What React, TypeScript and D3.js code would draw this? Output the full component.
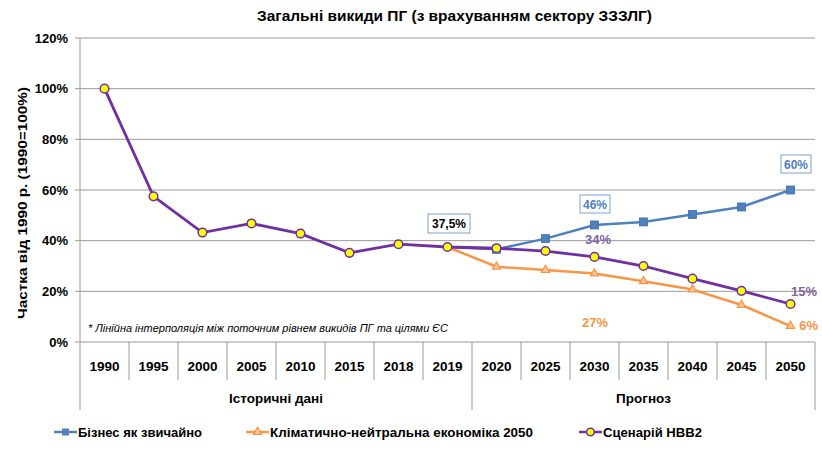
import React from "react";
import * as d3 from "d3";

const years = ["1990","1995","2000","2005","2010","2015","2018","2019","2020","2025","2030","2035","2040","2045","2050"];
const scenarioHBB2 = [100,57.5,43.2,46.8,42.8,35.2,38.6,37.5,37,35.9,33.6,30,25,20.2,15];
const bauYears = ["2019","2020","2025","2030","2035","2040","2045","2050"];
const bau = [37.5,36.6,40.8,46.2,47.4,50.3,53.3,60];
const climYears = ["2019","2020","2025","2030","2035","2040","2045","2050"];
const climate = [37.5,29.7,28.4,27,24,20.7,14.6,6.3];
const yTicks = [0,20,40,60,80,100,120];
const groups = [{ name: "Історичні дані", from: 0, to: 8 }, { name: "Прогноз", from: 8, to: 15 }];
const seriesNames = ["Бізнес як звичайно", "Кліматично-нейтральна економіка 2050", "Сценарій НВВ2"];

const FONT = "'Liberation Sans', Arial, sans-serif";
const BLUE = "#4F81BD";
const ORANGE = "#F79646";
const PURPLE = "#7030A0";

export default function App() {
  const W = 822, H = 472;
  const left = 80, right = 815, top = 38, bottom = 342;
  const x = d3.scaleBand().domain(years).range([left, right]);
  const cx = (yr: string) => (x(yr) as number) + x.bandwidth() / 2;
  const y = d3.scaleLinear().domain([0, 120]).range([bottom, top]);
  const line = d3.line<[string, number]>().x(d => cx(d[0])).y(d => y(d[1]));
  const pts = (ys: string[], vs: number[]) => ys.map((yr, i) => [yr, vs[i]] as [string, number]);
  const tri = d3.symbol().type(d3.symbolTriangle).size(28)();
  const sq = "spacingAndGlyphs";

  return (
    <svg width={W} height={H} style={{ position: "absolute", left: 0, top: 0, fontFamily: FONT }}>
      <rect width={W} height={H} fill="#fff" />
      <text x={257} y={21} fontSize={15} fontWeight="bold" textLength={395} lengthAdjust={sq}>Загальні викиди ПГ (з врахуванням сектору ЗЗЗЛГ)</text>
      {/* grid */}
      {yTicks.map(t => (
        <g key={t}>
          <line x1={left - 5} x2={right} y1={y(t)} y2={y(t)} stroke="#9a9a9a" strokeWidth={1} />
          <text x={68} y={y(t) + 4.5} textAnchor="end" fontSize={13} fontWeight="bold">{t}%</text>
        </g>
      ))}
      <line x1={left} x2={left} y1={top} y2={bottom} stroke="#9a9a9a" />
      <text transform={`translate(27,203) rotate(-90)`} x={-116} fontSize={12.5} fontWeight="bold" textLength={232} lengthAdjust={sq}>Частка від 1990 р. (1990=100%)</text>
      {/* category axis */}
      {years.map((yr, i) => (
        <g key={yr}>
          <text x={cx(yr)} y={371} textAnchor="middle" fontSize={13.5} fontWeight="bold">{yr}</text>
          {i > 0 && i !== 8 && <line x1={x(yr) as number} x2={x(yr) as number} y1={bottom} y2={380} stroke="#9a9a9a" />}
        </g>
      ))}
      {[0, 8, 15].map(i => {
        const xx = left + i * x.bandwidth();
        return <line key={i} x1={xx} x2={xx} y1={bottom} y2={410} stroke="#9a9a9a" />;
      })}
      {groups.map(g => (
        <text key={g.name} x={left + ((g.from + g.to) / 2) * x.bandwidth()} y={403} textAnchor="middle" fontSize={13.5} fontWeight="bold">{g.name}</text>
      ))}
      <text x={88} y={332} fontSize={10.5} fontStyle="italic" textLength={360} lengthAdjust={sq}>* Лінійна інтерполяція між поточним рівнем викидів ПГ та цілями ЄС</text>
      {/* series */}
      <path d={line(pts(bauYears, bau)) || ""} fill="none" stroke={BLUE} strokeWidth={2.5} />
      {pts(bauYears, bau).slice(1).map(([yr, v]) => (
        <rect key={yr} x={cx(yr) - 4} y={y(v) - 4} width={8} height={8} fill={BLUE} stroke="#3f6fa8" strokeWidth={0.8} />
      ))}
      <path d={line(pts(climYears, climate)) || ""} fill="none" stroke={ORANGE} strokeWidth={2.5} />
      {pts(climYears, climate).slice(1).map(([yr, v]) => (
        <path key={yr} d={tri || ""} transform={`translate(${cx(yr)},${y(v)})`} fill="#FBC89E" stroke={ORANGE} strokeWidth={1.3} />
      ))}
      <path d={line(pts(years, scenarioHBB2)) || ""} fill="none" stroke={PURPLE} strokeWidth={2.8} />
      {pts(years, scenarioHBB2).map(([yr, v]) => (
        <circle key={yr} cx={cx(yr)} cy={y(v)} r={4.3} fill="#FFFF00" stroke={PURPLE} strokeWidth={1.5} />
      ))}
      {/* labels */}
      <rect x={428} y={214} width={42} height={19} fill="#fff" stroke="#7da2cf" />
      <text x={449} y={228} textAnchor="middle" fontSize={12} fontWeight="bold" fill="#000">37,5%</text>
      <rect x={580} y={195} width={30} height={18} fill="#fff" stroke="#7da2cf" />
      <text x={595} y={208.5} textAnchor="middle" fontSize={12} fontWeight="bold" fill={BLUE}>46%</text>
      <rect x={781} y={155} width={30} height={18} fill="#fff" stroke="#7da2cf" />
      <text x={796} y={168.5} textAnchor="middle" fontSize={12} fontWeight="bold" fill={BLUE}>60%</text>
      <text x={598} y={244} textAnchor="middle" fontSize={13} fontWeight="bold" fill="#8064A2">34%</text>
      <text x={817} y={296} textAnchor="end" fontSize={13} fontWeight="bold" fill="#8064A2">15%</text>
      <text x={595} y={327} textAnchor="middle" fontSize={13} fontWeight="bold" fill={ORANGE}>27%</text>
      <text x={818} y={330} textAnchor="end" fontSize={13} fontWeight="bold" fill={ORANGE}>6%</text>
      {/* legend */}
      <g fontSize={13} fontWeight="bold">
        <line x1={54} x2={77} y1={432} y2={432} stroke={BLUE} strokeWidth={2.5} />
        <rect x={62} y={428.5} width={7} height={7} fill={BLUE} />
        <text x={78} y={437} textLength={124} lengthAdjust={sq}>{seriesNames[0]}</text>
        <line x1={246} x2={269} y1={432} y2={432} stroke={ORANGE} strokeWidth={2.5} />
        <path d={tri || ""} transform="translate(257.5,432)" fill="#FBC89E" stroke={ORANGE} strokeWidth={1.3} />
        <text x={270} y={437} textLength={263} lengthAdjust={sq}>{seriesNames[1]}</text>
        <line x1={579} x2={602} y1={432} y2={432} stroke={PURPLE} strokeWidth={2.5} />
        <circle cx={590.5} cy={432} r={3.8} fill="#FFFF00" stroke={PURPLE} strokeWidth={1.5} />
        <text x={603} y={437} textLength={99} lengthAdjust={sq}>{seriesNames[2]}</text>
      </g>
    </svg>
  );
}
